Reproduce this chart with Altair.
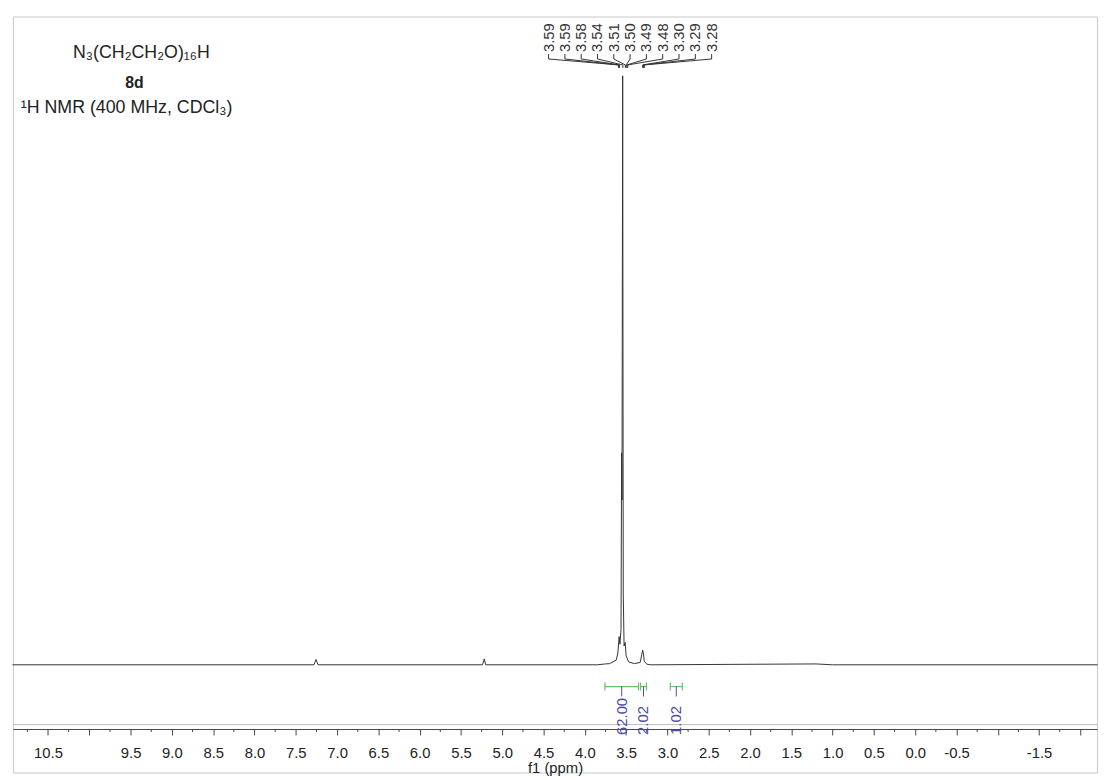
import altair as alt
import pandas as pd

# ---------------- data ----------------
ppm = [10.93, 7.28, 7.255, 7.23, 5.24, 5.218, 5.20, 3.85, 3.75, 3.70, 3.62, 3.60,
       3.585, 3.575, 3.562, 3.555, 3.550, 3.542, 3.535, 3.525, 3.512, 3.50, 3.47,
       3.40, 3.33, 3.31, 3.300, 3.292, 3.28, 3.25, 3.20, 1.20, 1.00, -2.21]
intensity = [0.0, 0.0, 0.9, 0.0, 0.0, 1.0, 0.0, 0.0, 0.15, 0.2, 0.8, 2.0,
             4.8, 3.5, 6.0, 36.0, 28.0, 100.0, 12.0, 3.2, 3.8, 1.5, 0.5,
             0.2, 0.4, 1.8, 2.5, 2.0, 0.6, 0.1, 0.0, 0.15, 0.0, 0.0]

peak_labels = [3.59, 3.59, 3.58, 3.54, 3.51, 3.50, 3.49, 3.48, 3.30, 3.29, 3.28]

integral_from = [3.757, 3.326, 2.966]
integral_to = [3.350, 3.254, 2.820]
integral_values = ["62.00", "2.02", "1.02"]

major_ticks = [round(10.5 - 0.5 * i, 2) for i in range(26)]
hidden_tick_labels = [10.0, -1.0, -2.0]
minor_ticks = [round(10.75 - 0.5 * i, 2) for i in range(26)]

title_line1 = "N\u2083(CH\u2082CH\u2082O)\u2081\u2086H"
title_line2 = "8d"
title_line3 = "\u00b9H NMR (400 MHz, CDCl\u2083)"

# ---------------- layout ----------------
W, H = 1097, 765
VIEW_X0, VIEW_Y0 = 10, 12
PX_PER_PPM = 83.57
X_REF_PX, X_REF_PPM = 45.5, 10.5


def ppm_at(abs_x):
    return X_REF_PPM - (abs_x - X_REF_PX) / PX_PER_PPM


PXU = 5.96
YMAX = 110.07
YMIN = YMAX - H / PXU


def yv(abs_y):
    return YMAX - (abs_y - VIEW_Y0) / PXU


xscale = alt.Scale(domain=[ppm_at(VIEW_X0 + W), ppm_at(VIEW_X0)], reverse=True,
                   nice=False, zero=False)
yscale = alt.Scale(domain=[YMIN, YMAX], nice=False, zero=False)

hidden_expr = " || ".join(f"datum.value == {v}" for v in hidden_tick_labels)
xaxis = alt.Axis(
    values=major_ticks,
    labelExpr=f"({hidden_expr}) ? '' : replace(format(datum.value, '.1f'), '\u2212', '-')",
    offset=-44, tickSize=6, tickColor="#444", tickWidth=1,
    domainColor="#444", domainWidth=1, grid=False,
    labelFont="Liberation Sans", labelFontSize=15, labelColor="#222",
    labelPadding=11, labelFlush=False, labelOverlap=False, labelBound=False,
    title="f1 (ppm)", titleFont="Liberation Sans", titleFontSize=15,
    titleFontWeight="normal", titleColor="#222", titlePadding=0,
)


def X(field, **kw):
    return alt.X(field, scale=xscale, axis=xaxis, **kw)


def Y(field):
    return alt.Y(field, scale=yscale, axis=None)


# spectrum
spec_df = pd.DataFrame({"ppm": ppm, "intensity": intensity, "idx": range(len(ppm))})
spectrum = alt.Chart(spec_df).mark_line(color="#333", strokeWidth=1).encode(
    x=X("ppm:Q"), y=Y("intensity:Q"), order="idx:Q")

# peak label brackets
slot_x0, slot_dx = 552, 16.5
rows = []
for i, lab in enumerate(peak_labels):
    s = ppm_at(slot_x0 + i * slot_dx)
    for k, (xx, yy) in enumerate([(s, 50), (s, 55), (lab, 61), (lab, 64)]):
        rows.append({"g": i, "k": k, "x": xx, "y": yv(yy)})
br_df = pd.DataFrame(rows)
brackets = alt.Chart(br_df).mark_line(color="#333", strokeWidth=1).encode(
    x=X("x:Q"), y=Y("y:Q"), detail="g:N", order="k:Q")

lab_df = pd.DataFrame({
    "x": [ppm_at(slot_x0 + i * slot_dx) for i in range(len(peak_labels))],
    "y": [yv(48)] * len(peak_labels),
    "t": [f"{v:.2f}" for v in peak_labels],
})
labels = alt.Chart(lab_df).mark_text(
    angle=270, align="left", baseline="middle", font="Liberation Sans",
    fontSize=15, color="#333").encode(x=X("x:Q"), y=Y("y:Q"), text="t:N")

# integrals
int_df = pd.DataFrame({
    "a": integral_from, "b": integral_to,
    "m": [(a + b) / 2 for a, b in zip(integral_from, integral_to)],
    "v": integral_values,
})
int_df["yl"] = yv(690)
int_df["c1"] = yv(686)
int_df["c2"] = yv(694)
int_df["t2"] = yv(700)
int_df["ty"] = yv(739)
GREEN = "#6cbf6c"
BLUE = "#4a4aa8"
int_line = alt.Chart(int_df).mark_rule(color=GREEN, strokeWidth=1.2).encode(
    x=X("a:Q"), x2="b:Q", y=Y("yl:Q"))
cap_a = alt.Chart(int_df).mark_rule(color=GREEN, strokeWidth=1.2).encode(
    x=X("a:Q"), y=Y("c1:Q"), y2="c2:Q")
cap_b = alt.Chart(int_df).mark_rule(color=GREEN, strokeWidth=1.2).encode(
    x=X("b:Q"), y=Y("c1:Q"), y2="c2:Q")
int_tick = alt.Chart(int_df).mark_rule(color=BLUE, strokeWidth=1).encode(
    x=X("m:Q"), y=Y("yl:Q"), y2="t2:Q")
int_text = alt.Chart(int_df).mark_text(
    angle=270, align="left", baseline="middle", font="Liberation Sans",
    fontSize=15, color=BLUE).encode(x=X("m:Q"), y=Y("ty:Q"), text="v:N")

# minor ticks and light double line above axis
one = pd.DataFrame({"a": [0]})
minor_df = pd.DataFrame({"m": minor_ticks})
minor = alt.Chart(minor_df).mark_rule(color="#444", strokeWidth=1).encode(
    x=X("m:Q"), y=alt.value(721), y2=alt.value(724))
light_line = alt.Chart(one).mark_rule(color="#bdbdbd", strokeWidth=1).encode(
    x=alt.value(0), x2=alt.value(W), y=alt.value(716.5))

# title block
t1 = alt.Chart(one).mark_text(font="Liberation Sans", fontSize=18, color="#222",
                              align="center", baseline="alphabetic").encode(
    x=alt.value(130), y=alt.value(42), text=alt.value(title_line1))
t2 = alt.Chart(one).mark_text(font="Liberation Sans", fontSize=16, fontWeight="bold",
                              color="#222", align="center", baseline="alphabetic").encode(
    x=alt.value(123), y=alt.value(72), text=alt.value(title_line2))
t3 = alt.Chart(one).mark_text(font="Liberation Sans", fontSize=18, color="#222",
                              align="left", baseline="alphabetic").encode(
    x=alt.value(8), y=alt.value(98), text=alt.value(title_line3))

chart = alt.layer(
    light_line, spectrum, brackets, labels, int_line, cap_a, cap_b, int_tick,
    int_text, minor, t1, t2, t3
).properties(
    width=W, height=H,
    padding={"left": 2, "top": 4, "right": 2, "bottom": 2},
).configure_view(stroke="#c8c8c8", strokeWidth=1)

chart.save("out.html", embed_options={"renderer": "svg", "actions": False})
